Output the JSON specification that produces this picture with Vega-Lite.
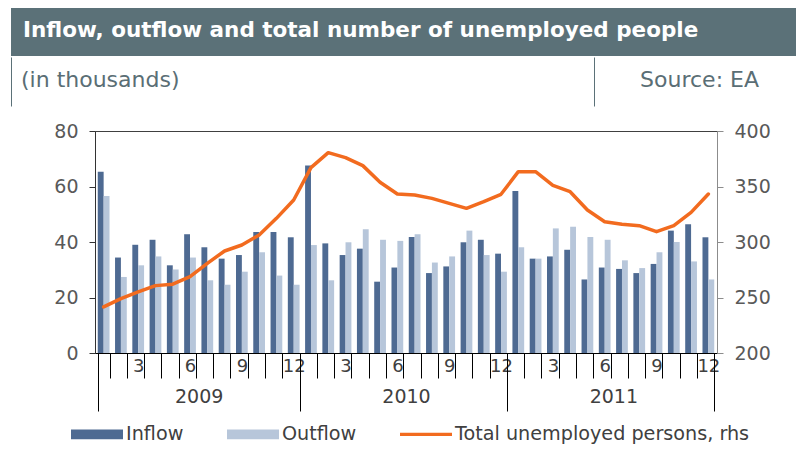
{
  "$schema": "https://vega.github.io/schema/vega-lite/v6.json",
  "padding": {"left": 10, "top": 8, "right": 0, "bottom": 0},
  "background": "white",
  "config": {
    "font": "DejaVu Sans",
    "view": {"stroke": null}
  },
  "datasets": {
    "monthly": [
      {"t": 1, "Inflow": 65.3, "Outflow": 56.6, "Total": 241.5},
      {"t": 2, "Inflow": 34.4, "Outflow": 27.4, "Total": 249.0},
      {"t": 3, "Inflow": 39.0, "Outflow": 31.6, "Total": 255.0},
      {"t": 4, "Inflow": 40.8, "Outflow": 34.8, "Total": 260.7},
      {"t": 5, "Inflow": 31.6, "Outflow": 30.1, "Total": 262.0},
      {"t": 6, "Inflow": 42.8, "Outflow": 34.4, "Total": 268.8},
      {"t": 7, "Inflow": 38.1, "Outflow": 26.2, "Total": 280.8},
      {"t": 8, "Inflow": 34.0, "Outflow": 24.6, "Total": 291.9},
      {"t": 9, "Inflow": 35.3, "Outflow": 29.3, "Total": 297.3},
      {"t": 10, "Inflow": 43.6, "Outflow": 36.3, "Total": 306.3},
      {"t": 11, "Inflow": 43.6, "Outflow": 27.9, "Total": 321.3},
      {"t": 12, "Inflow": 41.7, "Outflow": 24.6, "Total": 337.8},
      {"t": 13, "Inflow": 67.6, "Outflow": 38.9, "Total": 367.0},
      {"t": 14, "Inflow": 39.5, "Outflow": 26.2, "Total": 380.5},
      {"t": 15, "Inflow": 35.3, "Outflow": 39.9, "Total": 376.0},
      {"t": 16, "Inflow": 37.6, "Outflow": 44.6, "Total": 368.8},
      {"t": 17, "Inflow": 25.7, "Outflow": 40.8, "Total": 353.8},
      {"t": 18, "Inflow": 30.8, "Outflow": 40.4, "Total": 343.2},
      {"t": 19, "Inflow": 41.8, "Outflow": 42.8, "Total": 342.3},
      {"t": 20, "Inflow": 28.8, "Outflow": 32.6, "Total": 339.3},
      {"t": 21, "Inflow": 31.2, "Outflow": 34.8, "Total": 334.8},
      {"t": 22, "Inflow": 39.9, "Outflow": 44.1, "Total": 330.3},
      {"t": 23, "Inflow": 40.8, "Outflow": 35.3, "Total": 336.3},
      {"t": 24, "Inflow": 35.8, "Outflow": 29.3, "Total": 343.0},
      {"t": 25, "Inflow": 58.4, "Outflow": 38.1, "Total": 363.4},
      {"t": 26, "Inflow": 34.0, "Outflow": 34.0, "Total": 363.4},
      {"t": 27, "Inflow": 34.8, "Outflow": 44.9, "Total": 351.0},
      {"t": 28, "Inflow": 37.2, "Outflow": 45.5, "Total": 345.3},
      {"t": 29, "Inflow": 26.5, "Outflow": 41.8, "Total": 328.8},
      {"t": 30, "Inflow": 30.8, "Outflow": 40.8, "Total": 318.3},
      {"t": 31, "Inflow": 30.3, "Outflow": 33.4, "Total": 315.9},
      {"t": 32, "Inflow": 28.8, "Outflow": 30.6, "Total": 314.7},
      {"t": 33, "Inflow": 32.1, "Outflow": 36.3, "Total": 309.3},
      {"t": 34, "Inflow": 44.1, "Outflow": 40.0, "Total": 314.7},
      {"t": 35, "Inflow": 46.4, "Outflow": 33.0, "Total": 326.7},
      {"t": 36, "Inflow": 41.7, "Outflow": 26.5, "Total": 343.2}
    ]
  },
  "spacing": 14,
  "resolve": {"scale": {"color": "independent"}, "legend": {"color": "independent"}},
  "vconcat": [
    {
      "spacing": 0,
      "vconcat": [
        {
          "width": 786,
          "height": 48,
          "view": {"fill": "#5b7178", "stroke": null},
          "data": {"values": [{}]},
          "mark": {"type": "text"},
          "encoding": {"text": {"value": ""}},
          "title": {
            "text": "Inflow, outflow and total number of unemployed people",
            "anchor": "start",
            "orient": "top",
            "offset": -50,
            "baseline": "alphabetic",
            "dx": 12,
            "color": "#ffffff",
            "font": "DejaVu Sans",
            "fontSize": 21.5,
            "fontWeight": "bold"
          }
        },
        {
          "spacing": 0,
          "hconcat": [
            {
              "width": 583,
              "height": 49,
              "view": {"stroke": "#5b7178", "strokeWidth": 1, "strokeDash": [0, 583, 49, 583, 49, 0]},
              "data": {"values": [{}]},
              "mark": {"type": "text"},
              "encoding": {"text": {"value": ""}},
              "title": {
                "text": "(in thousands)",
                "anchor": "start",
                "orient": "top",
                "offset": -52,
                "baseline": "alphabetic",
                "dx": 10,
                "color": "#5a6e75",
                "font": "DejaVu Sans",
                "fontSize": 22,
                "fontWeight": "normal"
              }
            },
            {
              "width": 203,
              "height": 49,
              "data": {"values": [{}]},
              "mark": {"type": "text"},
              "encoding": {"text": {"value": ""}},
              "title": {
                "text": "Source: EA",
                "anchor": "end",
                "orient": "top",
                "offset": -52,
                "baseline": "alphabetic",
                "dx": -39,
                "color": "#5a6e75",
                "font": "DejaVu Sans",
                "fontSize": 22,
                "fontWeight": "normal"
              }
            }
          ]
        }
      ]
    },
    {
      "spacing": 0,
      "resolve": {"scale": {"color": "independent"}, "legend": {"color": "independent"}},
      "hconcat": [
        {
          "width": 42,
          "height": 10,
          "data": {"values": [{}]},
          "mark": {"type": "text"},
          "encoding": {"text": {"value": ""}}
        },
        {
          "width": 622,
          "height": 222,
          "view": {"stroke": "#404040", "strokeWidth": 1},
          "data": {"name": "monthly"},
          "layer": [
            {
              "transform": [{"fold": ["Inflow", "Outflow"], "as": ["series", "value"]}],
              "mark": {"type": "bar"},
              "encoding": {
                "x": {
                  "field": "t",
                  "type": "ordinal",
                  "scale": {"paddingInner": 0.32, "paddingOuter": 0.16},
                  "axis": {
                    "orient": "bottom",
                    "title": null,
                    "domainColor": "#000000",
                    "tickBand": "extent",
                    "tickSize": 25,
                    "tickColor": "#000000",
                    "labelExpr": "datum.value % 3 == 0 ? '' + ((datum.value - 1) % 12 + 1) : ''",
                    "labelAngle": 0,
                    "labelPadding": -21,
                    "labelFontSize": 18,
                    "labelColor": "#404040",
                    "labelOverlap": false
                  }
                },
                "xOffset": {"field": "series", "type": "nominal", "scale": {"paddingInner": 0, "paddingOuter": 0}},
                "y": {
                  "field": "value",
                  "type": "quantitative",
                  "scale": {"domain": [0, 80]},
                  "axis": {
                    "title": null,
                    "values": [0, 20, 40, 60, 80],
                    "grid": false,
                    "tickSize": 6,
                    "tickColor": "#333333",
                    "domainColor": "#333333",
                    "labelFontSize": 19,
                    "labelPadding": 11,
                    "labelColor": "#595959"
                  }
                },
                "color": {
                  "field": "series",
                  "type": "nominal",
                  "scale": {
                    "domain": ["Inflow", "Outflow", "Total unemployed persons, rhs"],
                    "range": ["#4e6a92", "#b7c6da", "#f26b1f"]
                  },
                  "legend": {
                    "orient": "none",
                    "legendX": -24,
                    "legendY": 277,
                    "direction": "horizontal",
                    "title": null,
                    "padding": 0,
                    "symbolSize": 2704,
                    "symbolType": "M-1,-0.19H1V0.19H-1Z",
                    "symbolStrokeWidth": 0,
                    "labelFontSize": 19.2,
                    "labelLimit": 600,
                    "labelColor": "#404040",
                    "labelOffset": 3,
                    "columnPadding": 43,
                    "encode": {
                      "symbols": {
                        "update": {
                          "shape": {"signal": "datum.value === 'Total unemployed persons, rhs' ? 'M-1,-0.065H1V0.065H-1Z' : 'M-1,-0.19H1V0.19H-1Z'"},
                          "fill": {"scale": "color", "field": "value"},
                          "opacity": {"value": 1}
                        }
                      }
                    }
                  }
                }
              }
            },
            {
              "mark": {"type": "line", "strokeWidth": 3.5, "strokeJoin": "round", "strokeCap": "round"},
              "encoding": {
                "x": {
                  "field": "t",
                  "type": "ordinal",
                  "axis": {
                    "orient": "bottom",
                    "title": null,
                    "domain": false,
                    "tickBand": "extent",
                    "tickSize": 58,
                    "tickColor": "#000000",
                    "tickOpacity": {"condition": {"test": "datum.index < 0 || datum.value % 12 == 0", "value": 1}, "value": 0},
                    "labelExpr": "datum.value == 7 ? '2009' : datum.value == 19 ? '2010' : datum.value == 31 ? '2011' : ''",
                    "labelOffset": -8.64,
                    "labelAngle": 0,
                    "labelPadding": -24,
                    "labelFontSize": 19,
                    "labelColor": "#404040",
                    "labelOverlap": false
                  }
                },
                "y": {
                  "field": "Total",
                  "type": "quantitative",
                  "scale": {"domain": [200, 400]},
                  "axis": {
                    "orient": "right",
                    "title": null,
                    "values": [200, 250, 300, 350, 400],
                    "grid": false,
                    "tickSize": 6,
                    "tickColor": "#8c8c8c",
                    "domainColor": "#8c8c8c",
                    "labelFontSize": 19,
                    "labelPadding": 11,
                    "labelColor": "#595959"
                  }
                },
                "color": {"datum": "Total unemployed persons, rhs"}
              }
            }
          ],
          "resolve": {"scale": {"y": "independent"}, "axis": {"x": "independent"}}
        }
      ]
    }
  ]
}
